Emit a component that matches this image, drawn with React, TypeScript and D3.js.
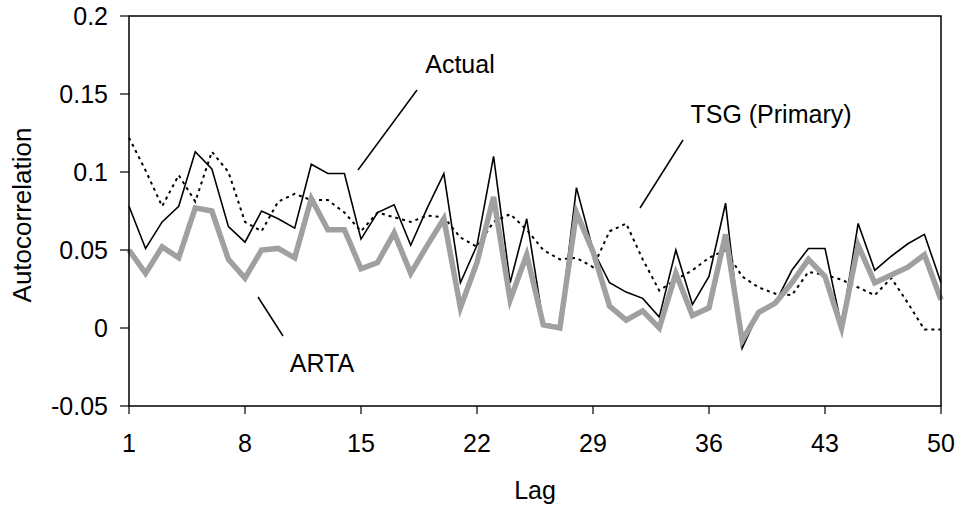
import React from "react";
import * as d3 from "d3";

const lags = d3.range(1, 51);
const lagTicks = [1, 8, 15, 22, 29, 36, 43, 50];
const yTicks = [-0.05, 0, 0.05, 0.1, 0.15, 0.2];
const yTickLabels = ["-0.05", "0", "0.05", "0.1", "0.15", "0.2"];

const actual = [
  0.078, 0.051, 0.068, 0.078, 0.113, 0.102, 0.065, 0.055, 0.075, 0.07,
  0.064, 0.105, 0.099, 0.099, 0.057, 0.074, 0.079, 0.053, 0.077, 0.099,
  0.029, 0.053, 0.11, 0.029, 0.07, 0.003, 0.001, 0.09, 0.05, 0.029,
  0.023, 0.019, 0.007, 0.05, 0.015, 0.033, 0.08, -0.013, 0.01, 0.016,
  0.037, 0.051, 0.051, 0.001, 0.067, 0.037, 0.046, 0.054, 0.06, 0.029,
];

const arta = [
  0.05, 0.035, 0.052, 0.045, 0.077, 0.075, 0.044, 0.032, 0.05, 0.051,
  0.045, 0.083, 0.063, 0.063, 0.038, 0.042, 0.061, 0.035, 0.053, 0.07,
  0.013, 0.042, 0.084, 0.018, 0.047, 0.002, 0.0, 0.074, 0.049, 0.014,
  0.005, 0.011, 0.0, 0.035, 0.008, 0.013, 0.06, -0.008, 0.01, 0.016,
  0.029, 0.044, 0.033, 0.0, 0.053, 0.029, 0.034, 0.039, 0.047, 0.018,
];

const tsg = [
  0.122, 0.101, 0.078, 0.098, 0.081, 0.113, 0.1, 0.068, 0.062, 0.081,
  0.086, 0.082, 0.082, 0.074, 0.062, 0.074, 0.071, 0.068, 0.072, 0.071,
  0.058, 0.052, 0.068, 0.073, 0.063, 0.05, 0.044, 0.045, 0.039, 0.062,
  0.067, 0.044, 0.024, 0.031, 0.037, 0.045, 0.05, 0.033, 0.026, 0.022,
  0.021, 0.036, 0.034, 0.031, 0.026, 0.021, 0.032, 0.016, -0.001, -0.001,
];

const font = "Arial, 'Liberation Sans', sans-serif";

export default function App() {
  const totalWidth = 957;
  const totalHeight = 508;
  const margin = { left: 129, right: 16, top: 16, bottom: 102 };
  const width = totalWidth - margin.left - margin.right;
  const height = totalHeight - margin.top - margin.bottom;

  const xScale = d3.scaleLinear().domain([1, 50]).range([0, width]);
  const yScale = d3.scaleLinear().domain([-0.05, 0.2]).range([height, 0]);

  const line = d3
    .line<number>()
    .x((d, i) => xScale(lags[i]))
    .y((d) => yScale(d));

  return (
    <svg
      width={totalWidth}
      height={totalHeight}
      style={{ position: "absolute", left: 0, top: 0, background: "white" }}
    >
      <g transform={`translate(${margin.left}, ${margin.top})`}>
        {/* series */}
        <path d={line(tsg)} fill="none" stroke="black" strokeWidth="2" strokeDasharray="3,4" />
        <path d={line(actual)} fill="none" stroke="black" strokeWidth="1.6" strokeLinejoin="miter" />
        <path d={line(arta)} fill="none" stroke="#a0a0a0" strokeWidth="5.5" strokeLinejoin="miter" />

        {/* plot frame */}
        <rect x={0} y={0} width={width} height={height} fill="none" stroke="black" strokeWidth="1.5" />

        {/* y axis */}
        {yTicks.map((t, i) => (
          <g key={t} transform={`translate(0, ${yScale(t)})`}>
            <line x1={-9} x2={0} stroke="black" strokeWidth="1.2" />
            <text
              x={-21}
              dy="0.35em"
              textAnchor="end"
              style={{ fontFamily: font, fontSize: 25 }}
            >
              {yTickLabels[i]}
            </text>
          </g>
        ))}

        {/* x axis */}
        {lagTicks.map((t) => (
          <g key={t} transform={`translate(${xScale(t)}, ${height})`}>
            <line y1={0} y2={8} stroke="black" strokeWidth="1.2" />
            <text y={37} dy="0.35em" textAnchor="middle" style={{ fontFamily: font, fontSize: 25 }}>
              {t}
            </text>
          </g>
        ))}
      </g>

      {/* axis titles */}
      <text
        transform="translate(31, 215) rotate(-90)"
        textAnchor="middle"
        style={{ fontFamily: font, fontSize: 26 }}
      >
        Autocorrelation
      </text>
      <text x={535} y={499} textAnchor="middle" style={{ fontFamily: font, fontSize: 25 }}>
        Lag
      </text>

      {/* annotations */}
      <text x={460} y={73} textAnchor="middle" style={{ fontFamily: font, fontSize: 25 }}>
        Actual
      </text>
      <line x1={417} y1={90} x2={358} y2={170} stroke="black" strokeWidth="1.5" />

      <text x={771} y={123} textAnchor="middle" style={{ fontFamily: font, fontSize: 25 }}>
        TSG (Primary)
      </text>
      <line x1={683} y1={140} x2={640} y2={208} stroke="black" strokeWidth="1.5" />

      <text x={322} y={372} textAnchor="middle" style={{ fontFamily: font, fontSize: 25 }}>
        ARTA
      </text>
      <line x1={258} y1={297} x2={283} y2={336} stroke="black" strokeWidth="1.5" />
    </svg>
  );
}
